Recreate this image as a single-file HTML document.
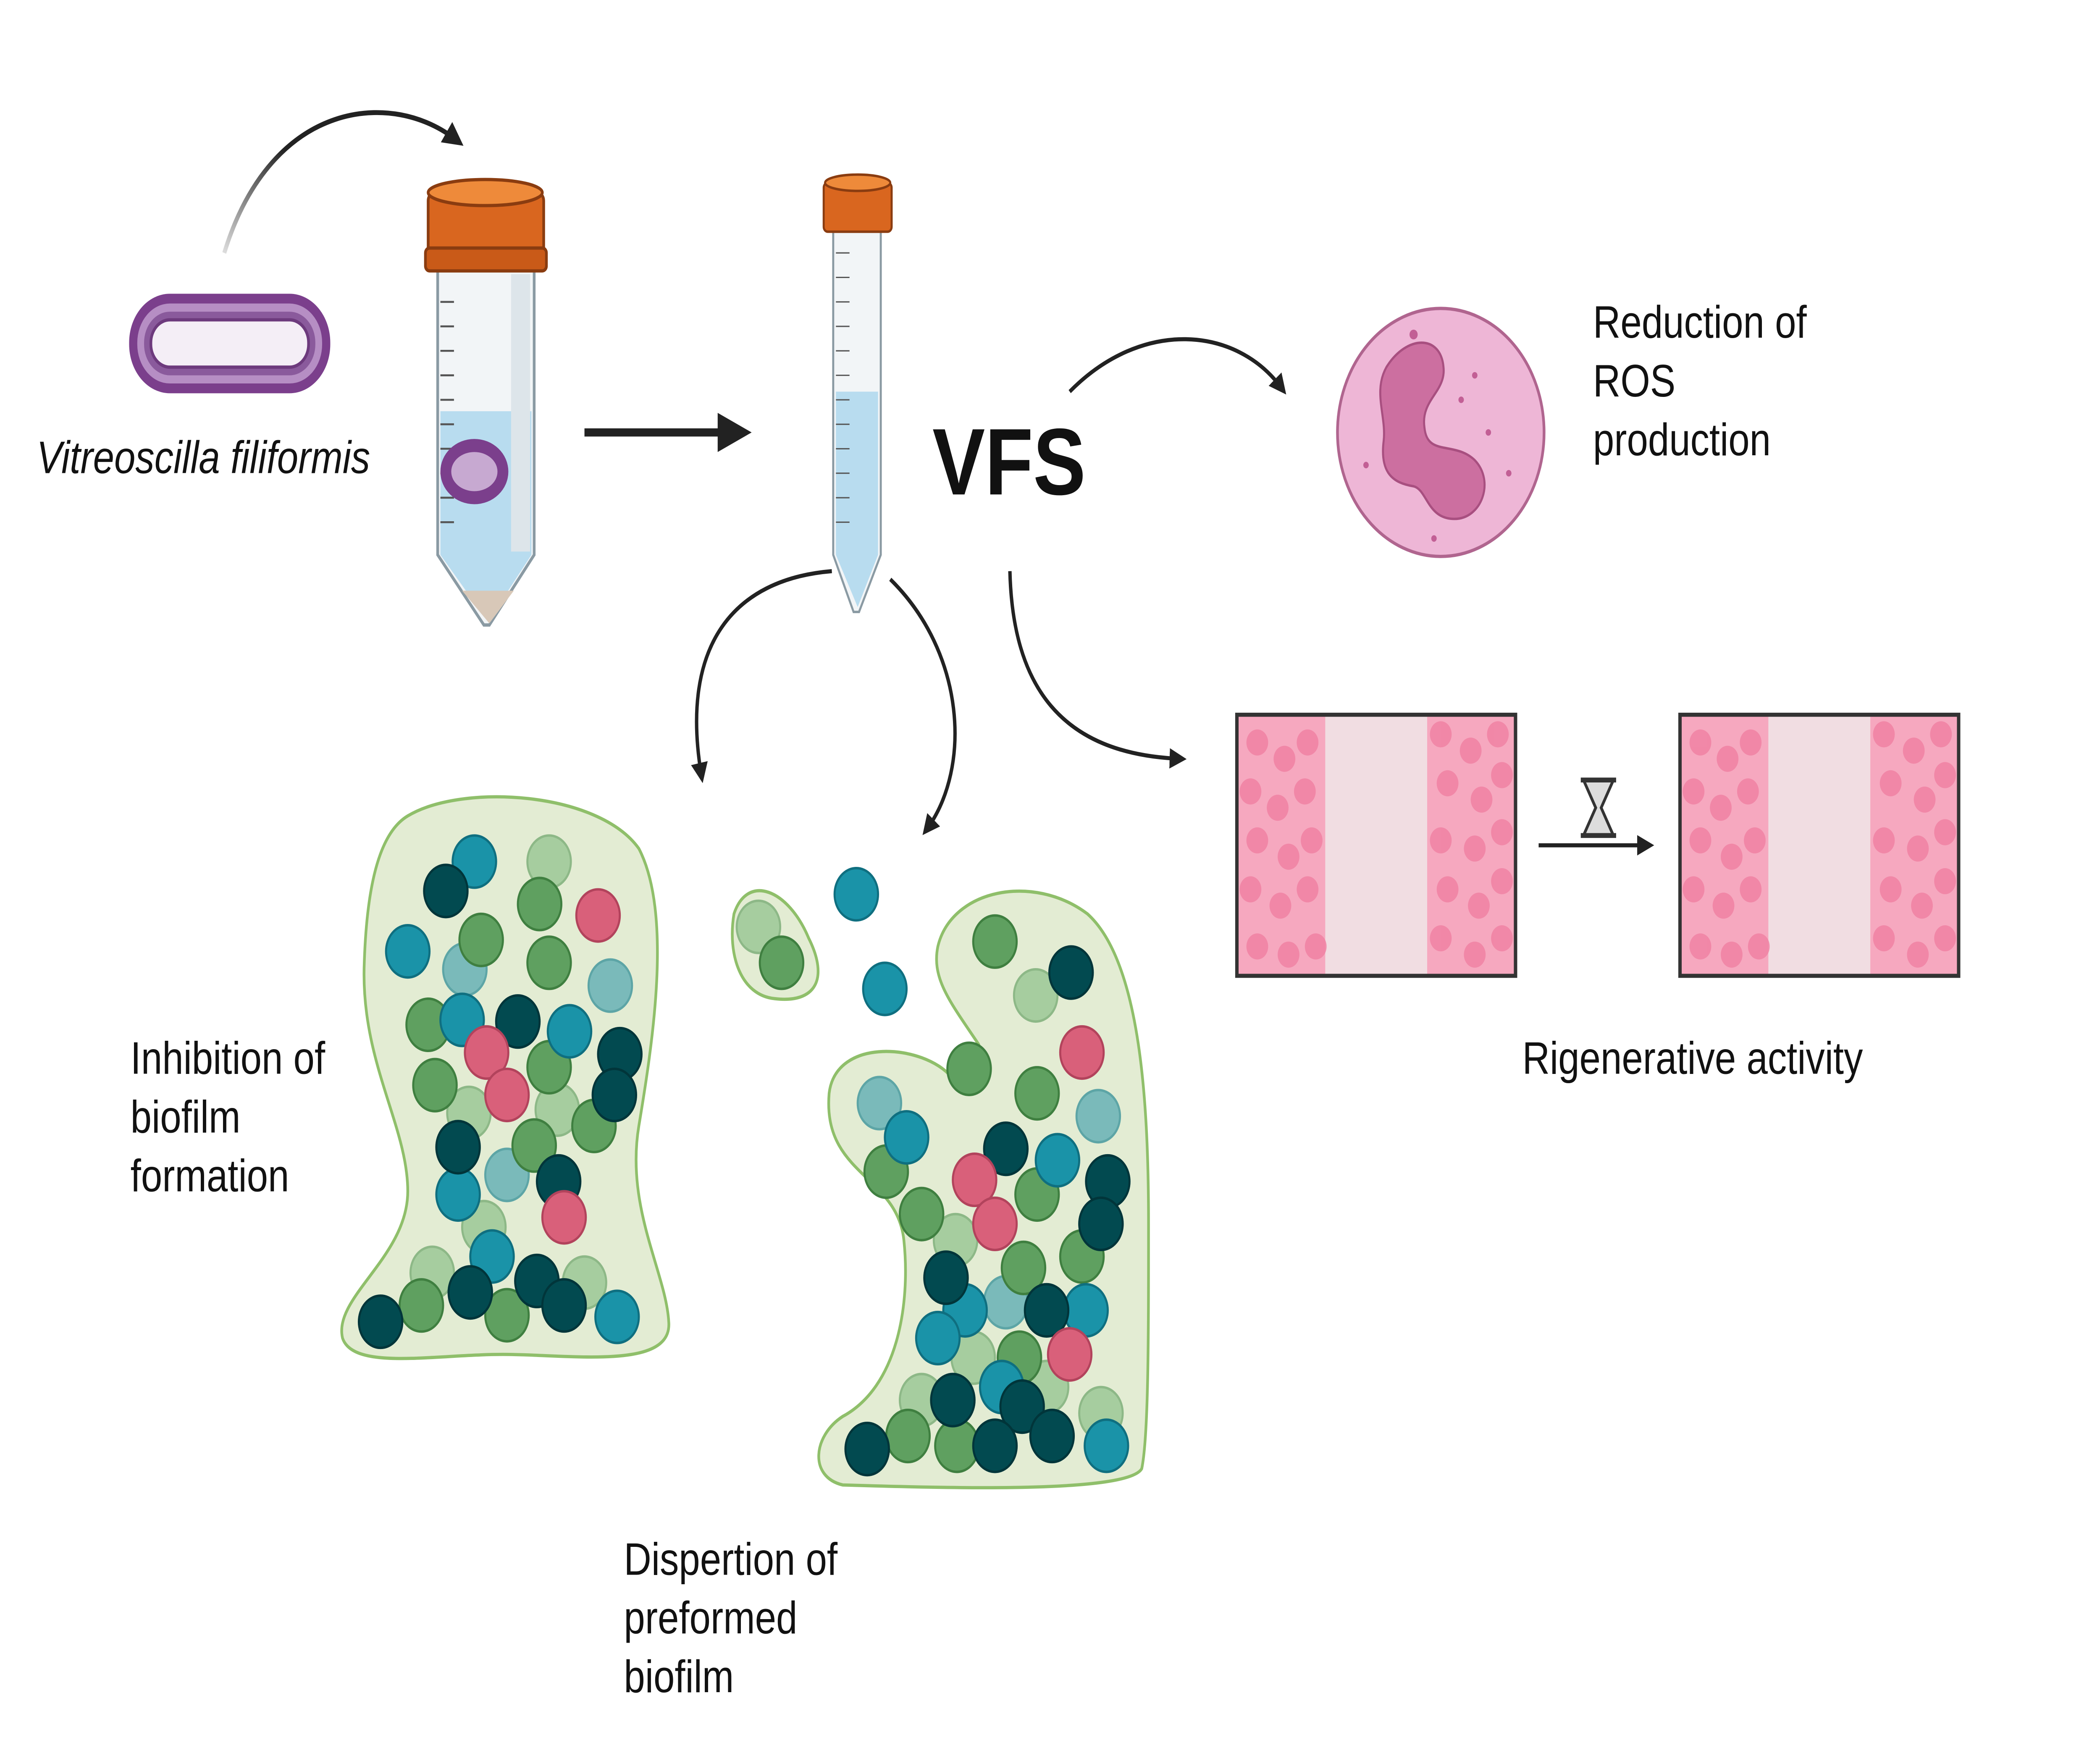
<!DOCTYPE html>
<html><head><meta charset="utf-8"><style>
html,body{margin:0;padding:0;background:#fff;width:100%;height:100%;overflow:hidden;}
svg{display:block;position:fixed;left:0;top:0;width:100vw;height:100vh;}
text{font-family:"Liberation Sans",sans-serif;fill:#111;}
</style></head><body>
<svg viewBox="0 0 1545 1081" preserveAspectRatio="none" xmlns="http://www.w3.org/2000/svg">
<defs>
<marker id="ah" viewBox="0 0 10 10" refX="6" refY="5" markerWidth="5" markerHeight="5" orient="auto"><path d="M0,0 L10,5 L0,10 z" fill="#222"/></marker>
<linearGradient id="fade1" x1="0" y1="1" x2="1" y2="0"><stop offset="0" stop-color="#ddd"/><stop offset="0.5" stop-color="#222"/></linearGradient>
</defs>
<rect width="1545" height="1081" fill="#fff"/>

<rect x="95" y="180" width="148" height="61" rx="30" fill="#7b3f8c"/>
<rect x="101" y="186" width="136" height="49" rx="24" fill="#b68ec4"/>
<rect x="106" y="191" width="126" height="39" rx="19" fill="#8a5a9c"/>
<rect x="111" y="196" width="116" height="29" rx="14" fill="#f4eef6" stroke="#6d3a7d" stroke-width="2"/>
<text x="27" y="290" font-size="28" font-style="italic">Vitreoscilla filiformis</text>

<path d="M165,155 C200,60 290,55 336,86" fill="none" stroke="url(#fade1)" stroke-width="3" marker-end="url(#ah)"/>

<path d="M322,165 L393,165 L393,340 L360,383 L356,383 L322,340 Z" fill="#f2f5f7" stroke="#8a9aa3" stroke-width="2"/>
<path d="M324,252 L391,252 L391,340 L359,381 L324,340 Z" fill="#b8dcef"/>
<path d="M340,362 L378,362 L360,382 Z" fill="#d8c8b8"/>
<rect x="376" y="168" width="14" height="170" fill="#dde5ea"/>
<g stroke="#555" stroke-width="1.2">
<line x1="324" y1="185" x2="334" y2="185"/><line x1="324" y1="200" x2="334" y2="200"/><line x1="324" y1="215" x2="334" y2="215"/><line x1="324" y1="230" x2="334" y2="230"/><line x1="324" y1="245" x2="334" y2="245"/><line x1="324" y1="260" x2="334" y2="260"/><line x1="324" y1="275" x2="334" y2="275"/><line x1="324" y1="290" x2="334" y2="290"/><line x1="324" y1="305" x2="334" y2="305"/><line x1="324" y1="320" x2="334" y2="320"/>
</g>
<rect x="315" y="118" width="85" height="47" rx="5" fill="#d9661f" stroke="#8a3c10" stroke-width="2"/>
<ellipse cx="357" cy="118" rx="42" ry="8" fill="#ee8a3a" stroke="#8a3c10" stroke-width="2"/>
<rect x="313" y="152" width="89" height="14" rx="3" fill="#c95a18" stroke="#8a3c10" stroke-width="2"/>
<ellipse cx="349" cy="289" rx="25" ry="20" fill="#7b3f8c"/>
<ellipse cx="349" cy="289" rx="17" ry="12" fill="#c7a9d1"/>

<line x1="430" y1="265" x2="535" y2="265" stroke="#222" stroke-width="5"/>
<path d="M528,253 L553,265 L528,277 Z" fill="#222"/>

<path d="M613,142 L648,142 L648,340 L632,375 L628,375 L613,340 Z" fill="#f2f5f7" stroke="#8a9aa3" stroke-width="1.5"/>
<path d="M615,240 L646,240 L646,340 L631,372 L615,340 Z" fill="#b8dcef"/>
<g stroke="#555" stroke-width="0.8">
<line x1="615" y1="155" x2="625" y2="155"/><line x1="615" y1="170" x2="625" y2="170"/><line x1="615" y1="185" x2="625" y2="185"/><line x1="615" y1="200" x2="625" y2="200"/><line x1="615" y1="215" x2="625" y2="215"/><line x1="615" y1="230" x2="625" y2="230"/><line x1="615" y1="245" x2="625" y2="245"/><line x1="615" y1="260" x2="625" y2="260"/><line x1="615" y1="275" x2="625" y2="275"/><line x1="615" y1="290" x2="625" y2="290"/><line x1="615" y1="305" x2="625" y2="305"/><line x1="615" y1="320" x2="625" y2="320"/>
</g>
<rect x="606" y="112" width="50" height="30" rx="3" fill="#d9661f" stroke="#8a3c10" stroke-width="1.5"/>
<ellipse cx="631" cy="112" rx="24" ry="5" fill="#ee8a3a" stroke="#8a3c10" stroke-width="1.5"/>

<text x="686" y="303" font-size="58" font-weight="bold">VFS</text>

<path d="M787,240 C840,195 910,200 943,238" fill="none" stroke="#222" stroke-width="2.5" marker-end="url(#ah)"/>

<circle cx="1060" cy="265" r="76" fill="#eeb6d6" stroke="#b0658f" stroke-width="2"/>
<path d="M1020,225 C1035,205 1060,205 1062,225 C1064,240 1045,245 1048,262 C1050,280 1070,270 1085,282 C1100,295 1090,318 1070,318 C1050,318 1050,300 1040,298 C1025,296 1015,290 1018,270 C1020,255 1010,240 1020,225 Z" fill="#cc6fa0" stroke="#a84f80" stroke-width="1.5"/>
<g fill="#c25f95"><circle cx="1075" cy="245" r="2"/><circle cx="1095" cy="265" r="2"/><circle cx="1040" cy="205" r="3"/><circle cx="1110" cy="290" r="2"/><circle cx="1005" cy="285" r="2"/><circle cx="1085" cy="230" r="2"/><circle cx="1055" cy="330" r="2"/></g>
<text font-size="28"><tspan x="1172" y="207">Reduction of</tspan><tspan x="1172" y="243">ROS</tspan><tspan x="1172" y="279">production</tspan></text>

<path d="M743,350 C745,420 780,462 868,465" fill="none" stroke="#222" stroke-width="2.5" marker-end="url(#ah)"/>

<g id="b1">
<rect x="910" y="438" width="205" height="160" fill="#f1dde2"/>
<rect x="910" y="438" width="65" height="160" fill="#f6a8bf"/>
<rect x="1050" y="438" width="65" height="160" fill="#f6a8bf"/>
<g fill="#f07fa2" opacity="0.8">
<circle cx="925" cy="455" r="8"/><circle cx="945" cy="465" r="8"/><circle cx="962" cy="455" r="8"/><circle cx="920" cy="485" r="8"/><circle cx="940" cy="495" r="8"/><circle cx="960" cy="485" r="8"/><circle cx="925" cy="515" r="8"/><circle cx="948" cy="525" r="8"/><circle cx="965" cy="515" r="8"/><circle cx="920" cy="545" r="8"/><circle cx="942" cy="555" r="8"/><circle cx="962" cy="545" r="8"/><circle cx="925" cy="580" r="8"/><circle cx="948" cy="585" r="8"/><circle cx="968" cy="580" r="8"/>
<circle cx="1060" cy="450" r="8"/><circle cx="1082" cy="460" r="8"/><circle cx="1102" cy="450" r="8"/><circle cx="1065" cy="480" r="8"/><circle cx="1090" cy="490" r="8"/><circle cx="1105" cy="475" r="8"/><circle cx="1060" cy="515" r="8"/><circle cx="1085" cy="520" r="8"/><circle cx="1105" cy="510" r="8"/><circle cx="1065" cy="545" r="8"/><circle cx="1088" cy="555" r="8"/><circle cx="1105" cy="540" r="8"/><circle cx="1060" cy="575" r="8"/><circle cx="1085" cy="585" r="8"/><circle cx="1105" cy="575" r="8"/>
</g>
<rect x="910" y="438" width="205" height="160" fill="none" stroke="#333" stroke-width="2.5"/>
</g>
<use href="#b1" x="326"/>

<line x1="1132" y1="518" x2="1212" y2="518" stroke="#222" stroke-width="2.5" marker-end="url(#ah)"/>
<path d="M1165,478 L1187,478 L1178,495 L1187,512 L1165,512 L1174,495 Z" fill="#ddd" stroke="#333" stroke-width="2"/>
<line x1="1163" y1="478" x2="1189" y2="478" stroke="#333" stroke-width="3"/><line x1="1163" y1="512" x2="1189" y2="512" stroke="#333" stroke-width="3"/>
<text x="1120" y="658" font-size="28">Rigenerative activity</text>

<path d="M612,350 C540,355 500,395 516,475" fill="none" stroke="#222" stroke-width="2.5" marker-end="url(#ah)"/>
<path d="M655,355 C710,400 715,470 682,508" fill="none" stroke="#222" stroke-width="2.5" marker-end="url(#ah)"/>

<path d="M300,500 C340,480 440,485 470,520 C495,560 480,640 470,690 C460,740 490,780 492,810 C495,840 420,830 370,830 C320,830 260,840 252,820 C245,795 300,770 300,730 C300,690 265,650 268,590 C270,540 280,510 300,500 Z" fill="#e3ecd3" stroke="#8fbf6a" stroke-width="2"/>
<path d="M540,560 C550,535 580,545 595,575 C610,600 600,615 570,612 C545,610 535,585 540,560 Z" fill="#e3ecd3" stroke="#8fbf6a" stroke-width="2"/>
<path d="M690,580 C700,545 760,535 800,560 C840,590 845,680 845,750 C845,820 845,880 840,900 C830,915 700,912 620,910 C595,905 598,880 620,868 C660,850 670,800 665,760 C660,720 605,720 610,670 C615,635 680,640 700,660 C725,680 730,660 720,640 C700,615 685,600 690,580 Z" fill="#e3ecd3" stroke="#8fbf6a" stroke-width="2"/>

<g stroke-width="1.5">
<g fill="#9cc896" stroke="#7fb07a" opacity="0.85">
<circle cx="404" cy="528" r="16"/><circle cx="318" cy="780" r="16"/><circle cx="356" cy="752" r="16"/><circle cx="430" cy="786" r="16"/><circle cx="345" cy="682" r="16"/><circle cx="410" cy="680" r="16"/><circle cx="558" cy="568" r="16"/><circle cx="762" cy="610" r="16"/><circle cx="703" cy="760" r="16"/><circle cx="716" cy="832" r="16"/><circle cx="678" cy="858" r="16"/><circle cx="810" cy="866" r="16"/><circle cx="770" cy="850" r="16"/></g>
<g fill="#6fb5b8" stroke="#4f9ea2" opacity="0.9">
<circle cx="342" cy="594" r="16"/><circle cx="449" cy="604" r="16"/><circle cx="373" cy="720" r="16"/><circle cx="647" cy="676" r="16"/><circle cx="808" cy="684" r="16"/><circle cx="740" cy="798" r="16"/></g>
<g fill="#5fa060" stroke="#3f7f40">
<circle cx="397" cy="554" r="16"/><circle cx="354" cy="576" r="16"/><circle cx="404" cy="590" r="16"/><circle cx="315" cy="628" r="16"/><circle cx="404" cy="654" r="16"/><circle cx="320" cy="665" r="16"/><circle cx="393" cy="702" r="16"/><circle cx="437" cy="690" r="16"/><circle cx="310" cy="800" r="16"/><circle cx="373" cy="806" r="16"/><circle cx="575" cy="590" r="16"/><circle cx="732" cy="577" r="16"/><circle cx="713" cy="655" r="16"/><circle cx="763" cy="670" r="16"/><circle cx="652" cy="718" r="16"/><circle cx="678" cy="744" r="16"/><circle cx="763" cy="732" r="16"/><circle cx="753" cy="777" r="16"/><circle cx="796" cy="770" r="16"/><circle cx="750" cy="832" r="16"/><circle cx="668" cy="880" r="16"/><circle cx="704" cy="886" r="16"/></g>
<g fill="#1a93a8" stroke="#0f6f80">
<circle cx="349" cy="528" r="16"/><circle cx="300" cy="583" r="16"/><circle cx="340" cy="625" r="16"/><circle cx="419" cy="632" r="16"/><circle cx="337" cy="732" r="16"/><circle cx="362" cy="770" r="16"/><circle cx="454" cy="807" r="16"/><circle cx="630" cy="548" r="16"/><circle cx="651" cy="606" r="16"/><circle cx="667" cy="697" r="16"/><circle cx="778" cy="711" r="16"/><circle cx="710" cy="803" r="16"/><circle cx="690" cy="820" r="16"/><circle cx="799" cy="803" r="16"/><circle cx="737" cy="850" r="16"/><circle cx="814" cy="886" r="16"/></g>
<g fill="#024a50" stroke="#01353a">
<circle cx="328" cy="546" r="16"/><circle cx="381" cy="626" r="16"/><circle cx="456" cy="646" r="16"/><circle cx="452" cy="671" r="16"/><circle cx="337" cy="703" r="16"/><circle cx="411" cy="724" r="16"/><circle cx="280" cy="810" r="16"/><circle cx="346" cy="792" r="16"/><circle cx="395" cy="785" r="16"/><circle cx="415" cy="800" r="16"/><circle cx="788" cy="596" r="16"/><circle cx="740" cy="704" r="16"/><circle cx="815" cy="724" r="16"/><circle cx="810" cy="750" r="16"/><circle cx="696" cy="783" r="16"/><circle cx="770" cy="803" r="16"/><circle cx="701" cy="858" r="16"/><circle cx="752" cy="862" r="16"/><circle cx="774" cy="880" r="16"/><circle cx="732" cy="886" r="16"/><circle cx="638" cy="888" r="16"/></g>
<g fill="#d9607a" stroke="#b2435c">
<circle cx="440" cy="561" r="16"/><circle cx="358" cy="645" r="16"/><circle cx="373" cy="671" r="16"/><circle cx="415" cy="746" r="16"/><circle cx="796" cy="645" r="16"/><circle cx="717" cy="723" r="16"/><circle cx="732" cy="750" r="16"/><circle cx="787" cy="830" r="16"/></g>
</g>

<text font-size="28"><tspan x="96" y="658">Inhibition of</tspan><tspan x="96" y="694">biofilm</tspan><tspan x="96" y="730">formation</tspan></text>
<text font-size="28"><tspan x="459" y="965">Dispertion of</tspan><tspan x="459" y="1001">preformed</tspan><tspan x="459" y="1037">biofilm</tspan></text>
</svg>
</body></html>
